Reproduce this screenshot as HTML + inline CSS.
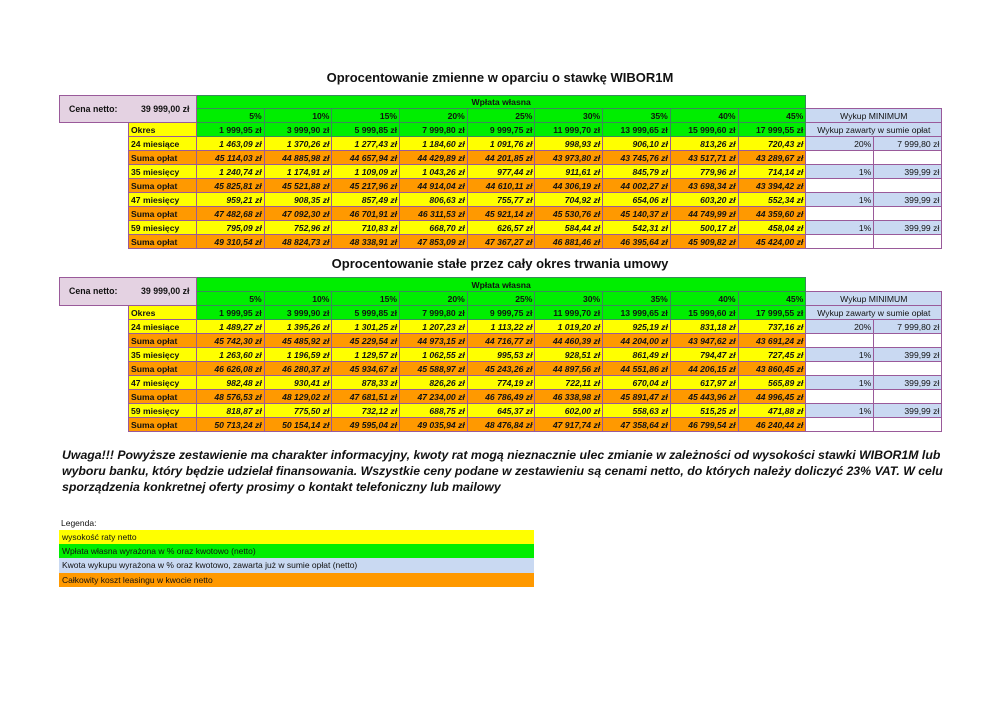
<!DOCTYPE html>
<html><head><meta charset="utf-8"><style>
body{margin:0;width:1000px;height:707px;background:#fff;position:relative;overflow:hidden;font-family:"Liberation Sans",sans-serif;color:#111}
.title{position:absolute;left:0;width:1000px;text-align:center;font-weight:bold;font-size:13px}
table{position:absolute;left:59px;border-collapse:collapse;table-layout:fixed;font-size:8.6px}
td{padding:0 2px;border:1px solid #9a5a9a;height:13px;line-height:12px;white-space:nowrap;overflow:hidden;box-sizing:border-box}
td.n{border:none;background:#fff}
.c{background:#e4d2e2;font-weight:bold;font-size:8.8px;vertical-align:top;padding-top:7px}
.c span{display:inline-block}
.g{background:#00ee00;text-align:right;font-weight:bold;border-color:#3a8a5a}
.gh{background:#00ee00;text-align:center;font-weight:bold;border-color:#3a8a5a}
.y{background:#ffff00;font-weight:bold}
.o{background:#ff9900;font-weight:bold}
.vy{background:#ffff00;font-weight:bold;font-style:italic;text-align:right}
.vo{background:#ff9900;font-weight:bold;font-style:italic;text-align:right}
.b{background:#c9d9f2;text-align:right}
.bc{background:#c9d9f2;text-align:center}
.w{background:#fff}
.uw{position:absolute;left:62px;top:447px;width:900px;font-size:12.3px;font-weight:bold;font-style:italic;line-height:16px}
.lg{position:absolute;left:59px;width:475px;height:14px;font-size:8.5px;line-height:14px;padding-left:3px;box-sizing:border-box}
</style></head><body>
<div class="title" style="top:70px">Oprocentowanie zmienne w oparciu o stawkę WIBOR1M</div>
<table style="top:95px;width:882px">
<colgroup><col style="width:69px"><col style="width:68px"><col span="9" style="width:67.7px"><col style="width:68px"><col style="width:68px"></colgroup>
<tr style="height:13px"><td colspan="2" rowspan="2" class="c"><span style="width:72px;padding-left:7px">Cena netto:</span><span>39 999,00 zł</span></td><td colspan="9" class="gh">Wpłata własna</td><td colspan="2" class="n"></td></tr>
<tr style="height:14px"><td class="g">5%</td><td class="g">10%</td><td class="g">15%</td><td class="g">20%</td><td class="g">25%</td><td class="g">30%</td><td class="g">35%</td><td class="g">40%</td><td class="g">45%</td><td colspan="2" class="bc">Wykup MINIMUM</td></tr>
<tr style="height:14px"><td class="n"></td><td class="y">Okres</td><td class="g">1 999,95 zł</td><td class="g">3 999,90 zł</td><td class="g">5 999,85 zł</td><td class="g">7 999,80 zł</td><td class="g">9 999,75 zł</td><td class="g">11 999,70 zł</td><td class="g">13 999,65 zł</td><td class="g">15 999,60 zł</td><td class="g">17 999,55 zł</td><td colspan="2" class="bc">Wykup zawarty w sumie opłat</td></tr>
<tr style="height:14px"><td class="n"></td><td class="y">24 miesiące</td><td class="vy">1 463,09 zł</td><td class="vy">1 370,26 zł</td><td class="vy">1 277,43 zł</td><td class="vy">1 184,60 zł</td><td class="vy">1 091,76 zł</td><td class="vy">998,93 zł</td><td class="vy">906,10 zł</td><td class="vy">813,26 zł</td><td class="vy">720,43 zł</td><td class="b">20%</td><td class="b">7 999,80 zł</td></tr>
<tr style="height:14px"><td class="n"></td><td class="o">Suma opłat</td><td class="vo">45 114,03 zł</td><td class="vo">44 885,98 zł</td><td class="vo">44 657,94 zł</td><td class="vo">44 429,89 zł</td><td class="vo">44 201,85 zł</td><td class="vo">43 973,80 zł</td><td class="vo">43 745,76 zł</td><td class="vo">43 517,71 zł</td><td class="vo">43 289,67 zł</td><td class="w"></td><td class="w"></td></tr>
<tr style="height:14px"><td class="n"></td><td class="y">35 miesięcy</td><td class="vy">1 240,74 zł</td><td class="vy">1 174,91 zł</td><td class="vy">1 109,09 zł</td><td class="vy">1 043,26 zł</td><td class="vy">977,44 zł</td><td class="vy">911,61 zł</td><td class="vy">845,79 zł</td><td class="vy">779,96 zł</td><td class="vy">714,14 zł</td><td class="b">1%</td><td class="b">399,99 zł</td></tr>
<tr style="height:14px"><td class="n"></td><td class="o">Suma opłat</td><td class="vo">45 825,81 zł</td><td class="vo">45 521,88 zł</td><td class="vo">45 217,96 zł</td><td class="vo">44 914,04 zł</td><td class="vo">44 610,11 zł</td><td class="vo">44 306,19 zł</td><td class="vo">44 002,27 zł</td><td class="vo">43 698,34 zł</td><td class="vo">43 394,42 zł</td><td class="w"></td><td class="w"></td></tr>
<tr style="height:14px"><td class="n"></td><td class="y">47 miesięcy</td><td class="vy">959,21 zł</td><td class="vy">908,35 zł</td><td class="vy">857,49 zł</td><td class="vy">806,63 zł</td><td class="vy">755,77 zł</td><td class="vy">704,92 zł</td><td class="vy">654,06 zł</td><td class="vy">603,20 zł</td><td class="vy">552,34 zł</td><td class="b">1%</td><td class="b">399,99 zł</td></tr>
<tr style="height:14px"><td class="n"></td><td class="o">Suma opłat</td><td class="vo">47 482,68 zł</td><td class="vo">47 092,30 zł</td><td class="vo">46 701,91 zł</td><td class="vo">46 311,53 zł</td><td class="vo">45 921,14 zł</td><td class="vo">45 530,76 zł</td><td class="vo">45 140,37 zł</td><td class="vo">44 749,99 zł</td><td class="vo">44 359,60 zł</td><td class="w"></td><td class="w"></td></tr>
<tr style="height:14px"><td class="n"></td><td class="y">59 miesięcy</td><td class="vy">795,09 zł</td><td class="vy">752,96 zł</td><td class="vy">710,83 zł</td><td class="vy">668,70 zł</td><td class="vy">626,57 zł</td><td class="vy">584,44 zł</td><td class="vy">542,31 zł</td><td class="vy">500,17 zł</td><td class="vy">458,04 zł</td><td class="b">1%</td><td class="b">399,99 zł</td></tr>
<tr style="height:14px"><td class="n"></td><td class="o">Suma opłat</td><td class="vo">49 310,54 zł</td><td class="vo">48 824,73 zł</td><td class="vo">48 338,91 zł</td><td class="vo">47 853,09 zł</td><td class="vo">47 367,27 zł</td><td class="vo">46 881,46 zł</td><td class="vo">46 395,64 zł</td><td class="vo">45 909,82 zł</td><td class="vo">45 424,00 zł</td><td class="w"></td><td class="w"></td></tr>
</table>

<div class="title" style="top:256px">Oprocentowanie stałe przez cały okres trwania umowy</div>
<table style="top:277px;width:882px">
<colgroup><col style="width:69px"><col style="width:68px"><col span="9" style="width:67.7px"><col style="width:68px"><col style="width:68px"></colgroup>
<tr style="height:14px"><td colspan="2" rowspan="2" class="c"><span style="width:72px;padding-left:7px">Cena netto:</span><span>39 999,00 zł</span></td><td colspan="9" class="gh">Wpłata własna</td><td colspan="2" class="n"></td></tr>
<tr style="height:14px"><td class="g">5%</td><td class="g">10%</td><td class="g">15%</td><td class="g">20%</td><td class="g">25%</td><td class="g">30%</td><td class="g">35%</td><td class="g">40%</td><td class="g">45%</td><td colspan="2" class="bc">Wykup MINIMUM</td></tr>
<tr style="height:14px"><td class="n"></td><td class="y">Okres</td><td class="g">1 999,95 zł</td><td class="g">3 999,90 zł</td><td class="g">5 999,85 zł</td><td class="g">7 999,80 zł</td><td class="g">9 999,75 zł</td><td class="g">11 999,70 zł</td><td class="g">13 999,65 zł</td><td class="g">15 999,60 zł</td><td class="g">17 999,55 zł</td><td colspan="2" class="bc">Wykup zawarty w sumie opłat</td></tr>
<tr style="height:14px"><td class="n"></td><td class="y">24 miesiące</td><td class="vy">1 489,27 zł</td><td class="vy">1 395,26 zł</td><td class="vy">1 301,25 zł</td><td class="vy">1 207,23 zł</td><td class="vy">1 113,22 zł</td><td class="vy">1 019,20 zł</td><td class="vy">925,19 zł</td><td class="vy">831,18 zł</td><td class="vy">737,16 zł</td><td class="b">20%</td><td class="b">7 999,80 zł</td></tr>
<tr style="height:14px"><td class="n"></td><td class="o">Suma opłat</td><td class="vo">45 742,30 zł</td><td class="vo">45 485,92 zł</td><td class="vo">45 229,54 zł</td><td class="vo">44 973,15 zł</td><td class="vo">44 716,77 zł</td><td class="vo">44 460,39 zł</td><td class="vo">44 204,00 zł</td><td class="vo">43 947,62 zł</td><td class="vo">43 691,24 zł</td><td class="w"></td><td class="w"></td></tr>
<tr style="height:14px"><td class="n"></td><td class="y">35 miesięcy</td><td class="vy">1 263,60 zł</td><td class="vy">1 196,59 zł</td><td class="vy">1 129,57 zł</td><td class="vy">1 062,55 zł</td><td class="vy">995,53 zł</td><td class="vy">928,51 zł</td><td class="vy">861,49 zł</td><td class="vy">794,47 zł</td><td class="vy">727,45 zł</td><td class="b">1%</td><td class="b">399,99 zł</td></tr>
<tr style="height:14px"><td class="n"></td><td class="o">Suma opłat</td><td class="vo">46 626,08 zł</td><td class="vo">46 280,37 zł</td><td class="vo">45 934,67 zł</td><td class="vo">45 588,97 zł</td><td class="vo">45 243,26 zł</td><td class="vo">44 897,56 zł</td><td class="vo">44 551,86 zł</td><td class="vo">44 206,15 zł</td><td class="vo">43 860,45 zł</td><td class="w"></td><td class="w"></td></tr>
<tr style="height:14px"><td class="n"></td><td class="y">47 miesięcy</td><td class="vy">982,48 zł</td><td class="vy">930,41 zł</td><td class="vy">878,33 zł</td><td class="vy">826,26 zł</td><td class="vy">774,19 zł</td><td class="vy">722,11 zł</td><td class="vy">670,04 zł</td><td class="vy">617,97 zł</td><td class="vy">565,89 zł</td><td class="b">1%</td><td class="b">399,99 zł</td></tr>
<tr style="height:14px"><td class="n"></td><td class="o">Suma opłat</td><td class="vo">48 576,53 zł</td><td class="vo">48 129,02 zł</td><td class="vo">47 681,51 zł</td><td class="vo">47 234,00 zł</td><td class="vo">46 786,49 zł</td><td class="vo">46 338,98 zł</td><td class="vo">45 891,47 zł</td><td class="vo">45 443,96 zł</td><td class="vo">44 996,45 zł</td><td class="w"></td><td class="w"></td></tr>
<tr style="height:14px"><td class="n"></td><td class="y">59 miesięcy</td><td class="vy">818,87 zł</td><td class="vy">775,50 zł</td><td class="vy">732,12 zł</td><td class="vy">688,75 zł</td><td class="vy">645,37 zł</td><td class="vy">602,00 zł</td><td class="vy">558,63 zł</td><td class="vy">515,25 zł</td><td class="vy">471,88 zł</td><td class="b">1%</td><td class="b">399,99 zł</td></tr>
<tr style="height:14px"><td class="n"></td><td class="o">Suma opłat</td><td class="vo">50 713,24 zł</td><td class="vo">50 154,14 zł</td><td class="vo">49 595,04 zł</td><td class="vo">49 035,94 zł</td><td class="vo">48 476,84 zł</td><td class="vo">47 917,74 zł</td><td class="vo">47 358,64 zł</td><td class="vo">46 799,54 zł</td><td class="vo">46 240,44 zł</td><td class="w"></td><td class="w"></td></tr>
</table>

<div class="uw">Uwaga!!! Powyższe zestawienie ma charakter informacyjny, kwoty rat mogą nieznacznie ulec zmianie w zależności od wysokości stawki WIBOR1M lub wyboru banku, który będzie udzielał finansowania. Wszystkie ceny podane w zestawieniu są cenami netto, do których należy doliczyć 23% VAT. W celu sporządzenia konkretnej oferty prosimy o kontakt telefoniczny lub mailowy</div>

<div style="position:absolute;left:61px;top:518px;font-size:8.5px">Legenda:</div>
<div class="lg" style="top:530px;background:#ffff00">wysokość raty netto</div>
<div class="lg" style="top:544px;background:#00ee00">Wpłata własna wyrażona w % oraz kwotowo (netto)</div>
<div class="lg" style="top:558px;background:#c9d9f2;height:15px">Kwota wykupu wyrażona w % oraz kwotowo, zawarta już w sumie opłat (netto)</div>
<div class="lg" style="top:573px;background:#ff9900">Całkowity koszt leasingu w kwocie netto</div>
</body></html>
